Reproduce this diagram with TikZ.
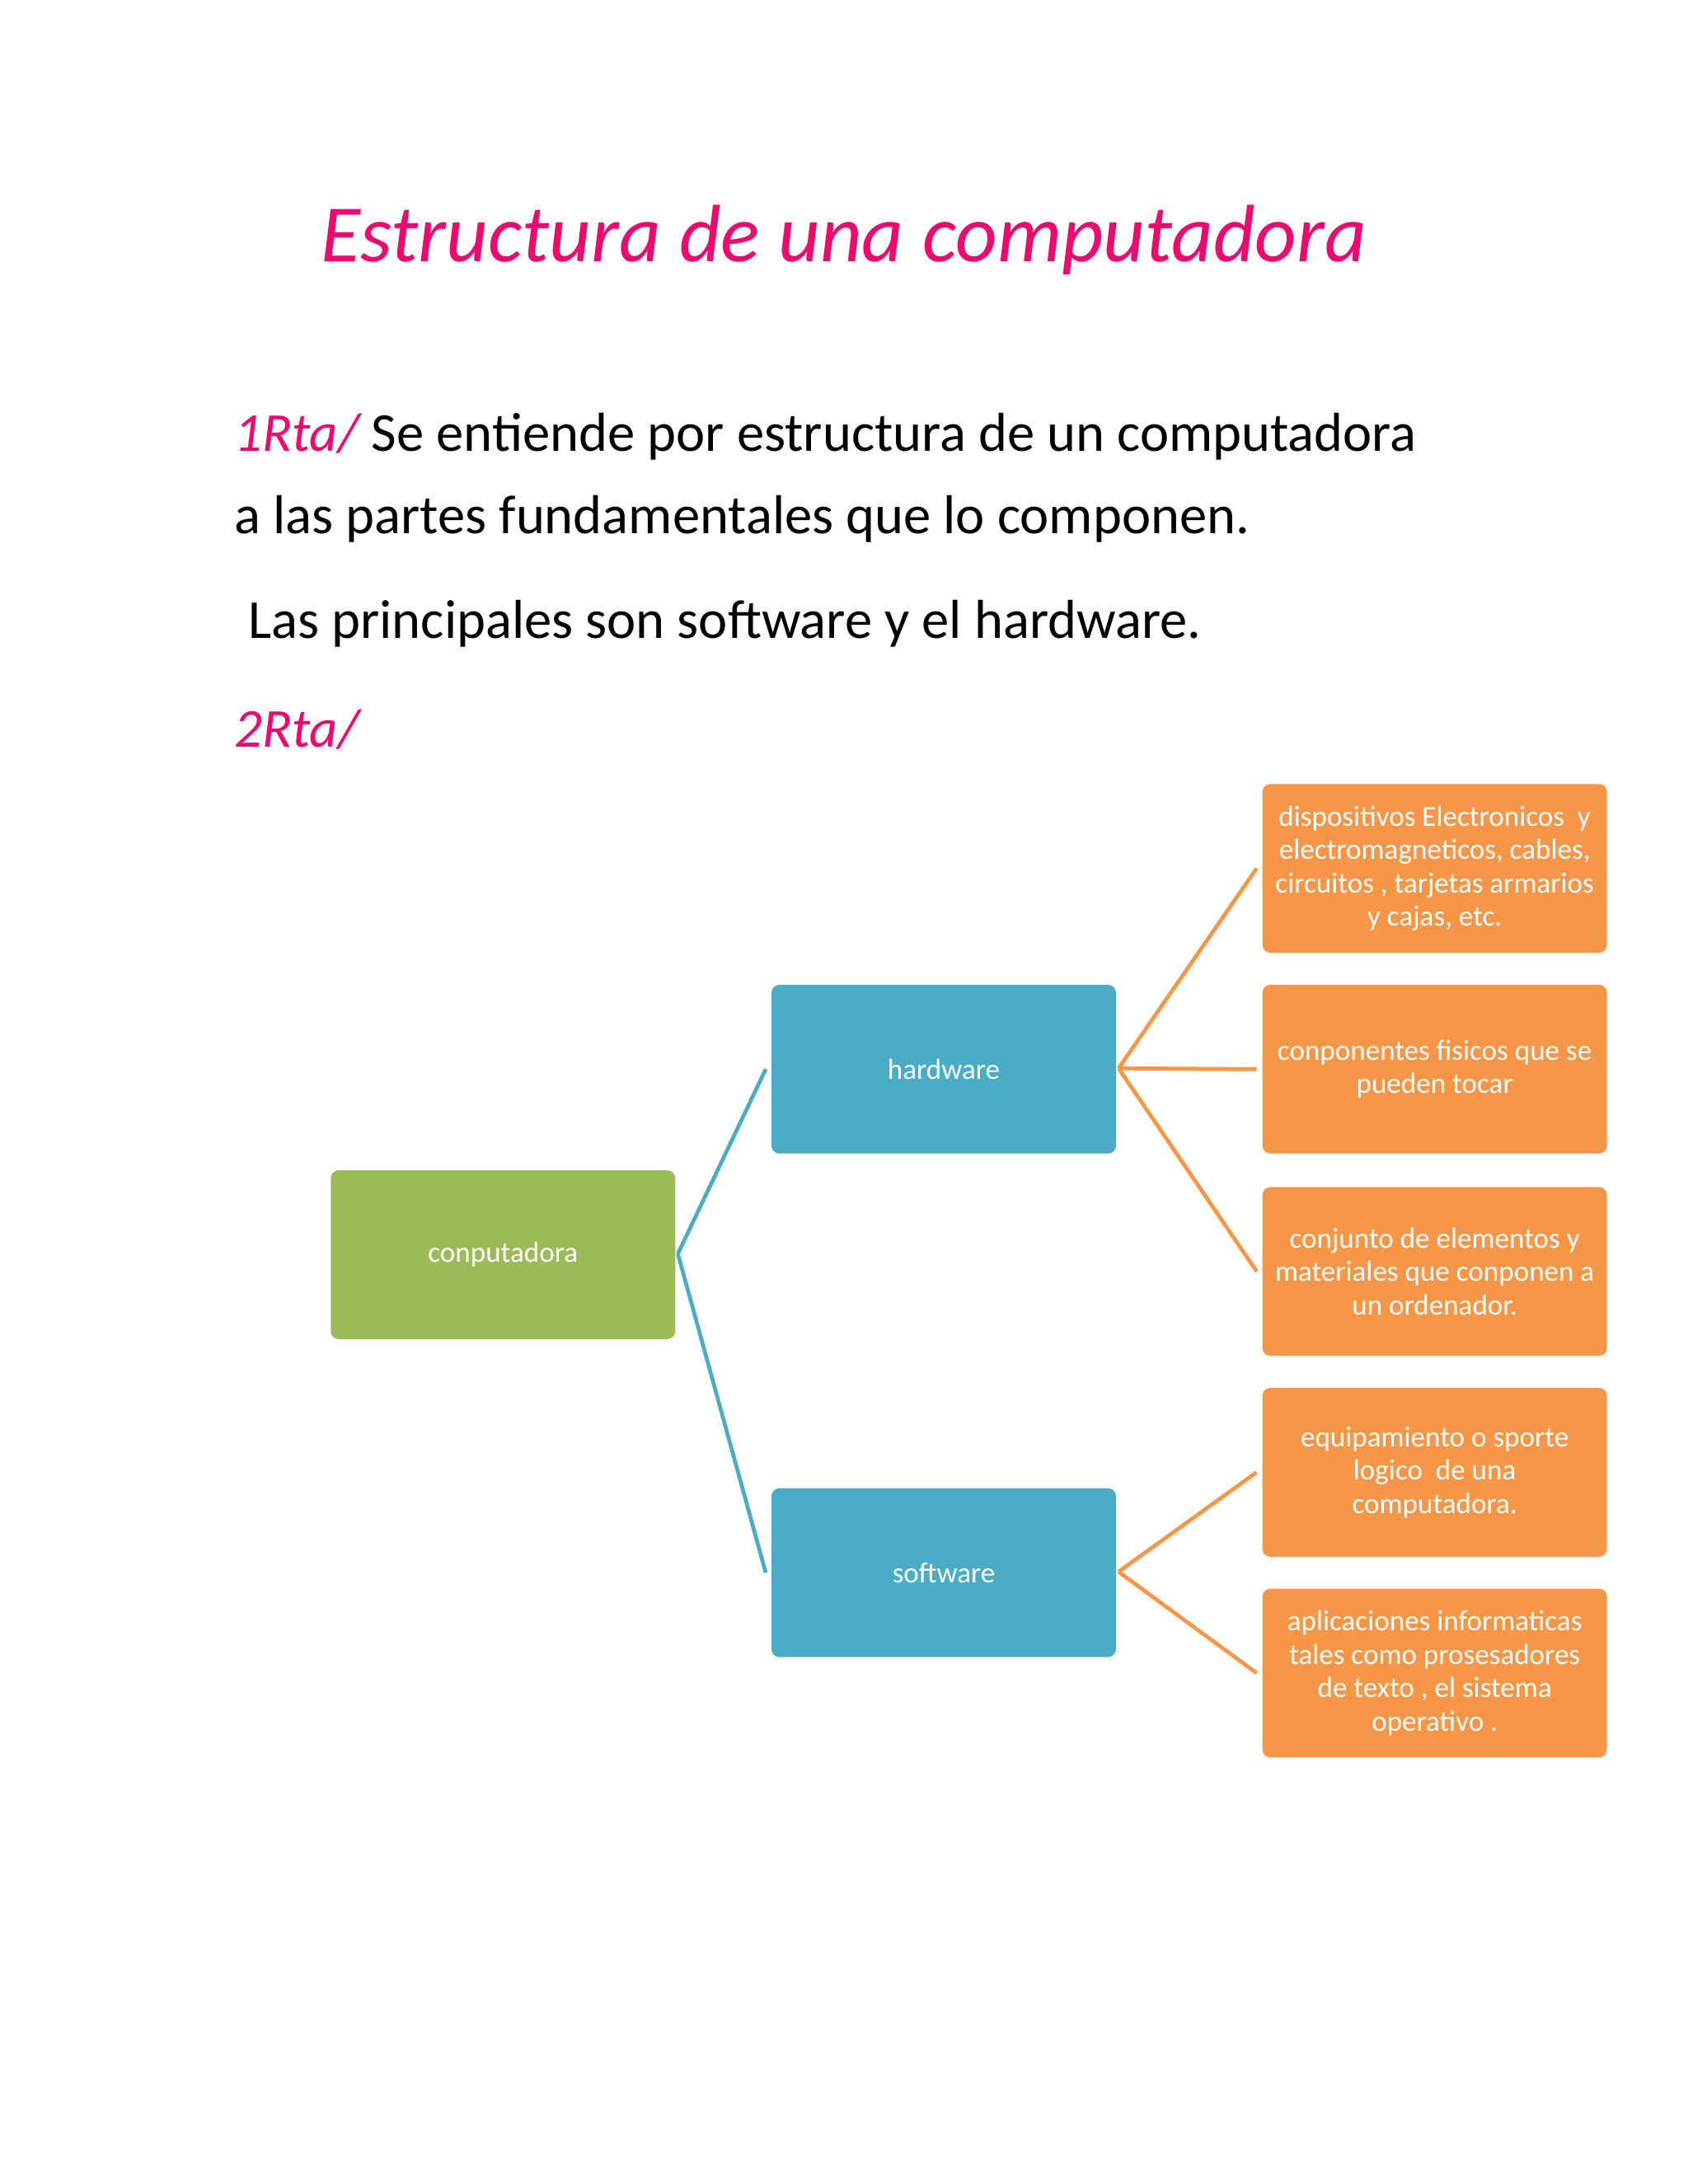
\documentclass[tikz,border=0pt]{standalone}
\usepackage{fontspec}
\setmainfont{Carlito}
\definecolor{pinkc}{HTML}{EC0A6E}
\definecolor{grn}{HTML}{9BBB59}
\definecolor{blu}{HTML}{4BACC6}
\definecolor{org}{HTML}{F79646}
\begin{document}
\begin{tikzpicture}[x=0.05cm,y=-0.05cm,
  box/.style={rounded corners=8pt,minimum width=247*0.05cm,minimum height=121*0.05cm,text=white,align=center,font=\fontsize{29.5}{34}\selectfont,inner sep=1pt,anchor=north west},
  gbox/.style={box,fill=grn},bbox/.style={box,fill=blu},obox/.style={box,fill=org},
  bl/.style={blu,line width=4pt},ol/.style={org,line width=4pt}]
\useasboundingbox (0,0) rectangle (1210,1566);
\node[pinkc,font=\fontsize{83}{90}\selectfont\itshape] (title) at (605,172) {Estructura de una computadora};
\node[anchor=west,font=\fontsize{56}{60}\selectfont,inner sep=0] (l1) at (168,313) {\textcolor{pinkc}{\itshape 1Rta/} Se entiende por estructura de un computadora};
\node[anchor=west,font=\fontsize{56}{60}\selectfont,inner sep=0] (l2) at (168,372) {a las partes fundamentales que lo componen.};
\node[anchor=west,font=\fontsize{56}{60}\selectfont,inner sep=0] (l3) at (178,447) {Las principales son software y el hardware.};
\node[anchor=west,font=\fontsize{56}{60}\selectfont\itshape,inner sep=0,pinkc] (l4) at (168,523) {2Rta/};
\node[gbox] (c) at (237,839) {conputadora};
\node[bbox] (h) at (553,706) {hardware};
\node[bbox] (s) at (553,1067) {software};
\node[obox] (o1) at (905,562) {dispositivos Electronicos\ \ y\\electromagneticos, cables,\\circuitos , tarjetas armarios\\y cajas, etc.};
\node[obox] (o2) at (905,706) {conponentes fisicos que se\\pueden tocar};
\node[obox] (o3) at (905,851) {conjunto de elementos y\\materiales que conponen a\\un ordenador.};
\node[obox] (o4) at (905,995) {equipamiento o sporte\\logico\ \ de una\\computadora.};
\node[obox] (o5) at (905,1139) {aplicaciones informaticas\\tales como prosesadores\\de texto , el sistema\\operativo .};
\coordinate (cr) at (486,899);
\coordinate (hr) at (802,766);
\coordinate (sr) at (802,1127);
\draw[bl] (cr) -- ([xshift=-4*0.05cm]h.west);
\draw[bl] (cr) -- ([xshift=-4*0.05cm]s.west);
\foreach \o in {o1,o2,o3} \draw[ol] (hr) -- ([xshift=-4*0.05cm]\o.west);
\foreach \o in {o4,o5} \draw[ol] (sr) -- ([xshift=-4*0.05cm]\o.west);
\end{tikzpicture}
\end{document}
